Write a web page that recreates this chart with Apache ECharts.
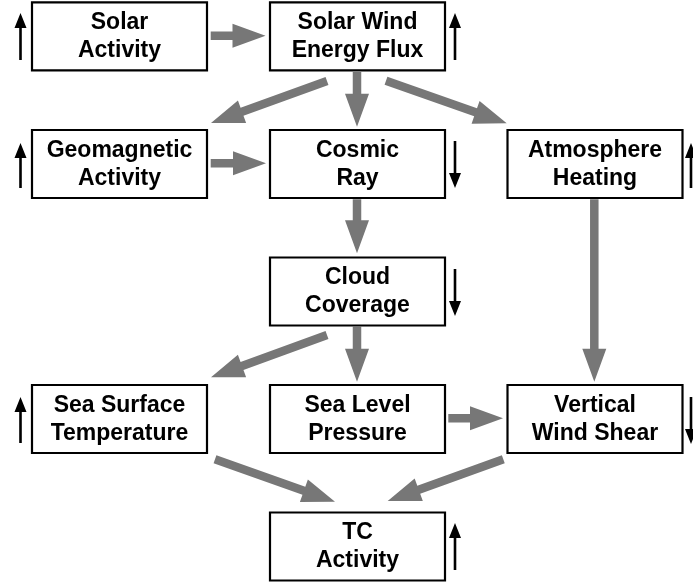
<!DOCTYPE html>
<html>
<head>
<meta charset="utf-8">
<script src="https://cdn.jsdelivr.net/npm/echarts@6/dist/echarts.min.js"></script>
<style>html,body{margin:0;padding:0;background:#fff;}#c{width:693px;height:583px;}</style>
</head>
<body>
<div id="c"></div>
<script>
// Node labels and their centres (diagram coordinates)
const nodeLabels = ['Solar\nActivity', 'Solar Wind\nEnergy Flux', 'Geomagnetic\nActivity', 'Cosmic\nRay',
  'Atmosphere\nHeating', 'Cloud\nCoverage', 'Sea Surface\nTemperature', 'Sea Level\nPressure',
  'Vertical\nWind Shear', 'TC\nActivity'];
const nodeX = [119.5, 357.5, 119.5, 357.5, 595, 357.5, 119.5, 357.5, 595, 357.5];
const nodeY = [36.3, 36.3, 164, 164, 164, 291.5, 419, 419, 419, 546.5];

// Causal links (gray arrows): tail x, tail y, tip x, tip y
const linkFromX = [210.7, 327, 357, 386, 210.7, 357, 594.3, 327, 357, 448.3, 215, 503.3];
const linkFromY = [35.7, 81, 72, 80.7, 163.3, 199.3, 199.3, 335, 326.7, 418.3, 459.3, 459.3];
const linkToX   = [265.5, 211, 357, 506.7, 266, 357, 594.3, 211, 357, 503, 335, 387.7];
const linkToY   = [35.7, 123, 126.7, 123.3, 163.3, 253.3, 381.7, 377.3, 381.7, 418.3, 501.7, 501];

// Trend indicators (small black arrows): x, tail y, tip y
const trendX     = [20.5, 455, 20.5, 455, 691, 455, 20.5, 691, 455];
const trendTailY = [60, 60, 188, 141, 188, 269, 443, 397, 570];
const trendTipY  = [13, 13, 143, 188, 143, 316, 397, 444, 523];

const boxData = nodeLabels.map((l, i) => [nodeX[i], nodeY[i], l]);
const linkData = linkFromX.map((v, i) => [v, linkFromY[i], linkToX[i], linkToY[i]]);
const trendData = trendX.map((v, i) => [v, trendTailY[i], v, trendTipY[i]]);

function arrowRenderer(shaftW, headW, headL, color) {
  return function (params, api) {
    const p1 = api.coord([api.value(0), api.value(1)]);
    const p2 = api.coord([api.value(2), api.value(3)]);
    const dx = p2[0] - p1[0], dy = p2[1] - p1[1];
    const len = Math.sqrt(dx * dx + dy * dy);
    const ux = dx / len, uy = dy / len;
    const nx = -uy, ny = ux;
    const bx = p2[0] - ux * headL, by = p2[1] - uy * headL;
    const s = shaftW / 2, h = headW / 2;
    const pts = [
      [p1[0] + nx * s, p1[1] + ny * s],
      [bx + nx * s, by + ny * s],
      [bx + nx * h, by + ny * h],
      [p2[0], p2[1]],
      [bx - nx * h, by - ny * h],
      [bx - nx * s, by - ny * s],
      [p1[0] - nx * s, p1[1] - ny * s]
    ];
    return { type: 'polygon', shape: { points: pts }, style: { fill: color } };
  };
}

const chart = echarts.init(document.getElementById('c'), null, { renderer: 'canvas' });
chart.setOption({
  animation: false,
  backgroundColor: '#ffffff',
  grid: { left: 0, right: 0, top: 0, bottom: 0 },
  xAxis: { type: 'value', min: 0, max: 693, show: false },
  yAxis: { type: 'value', min: 0, max: 583, inverse: true, show: false },
  series: [
    {
      type: 'custom', silent: true, z: 2,
      data: linkData,
      encode: { x: [0, 2], y: [1, 3] },
      renderItem: arrowRenderer(8.5, 24, 33, '#777777')
    },
    {
      type: 'custom', silent: true, z: 2,
      data: trendData,
      encode: { x: [0, 2], y: [1, 3] },
      renderItem: arrowRenderer(2.6, 12, 15, '#000000')
    },
    {
      type: 'custom', silent: true, z: 3,
      data: boxData,
      encode: { x: 0, y: 1 },
      renderItem: function (params, api) {
        const cx = api.value(0), cy = api.value(1);
        const tl = api.coord([cx - 87.5, cy - 34]);
        const br = api.coord([cx + 87.5, cy + 34]);
        const c = api.coord([cx, cy]);
        const label = boxData[params.dataIndex][2];
        return {
          type: 'group',
          children: [
            { type: 'rect', shape: { x: tl[0], y: tl[1], width: br[0] - tl[0], height: br[1] - tl[1] },
              style: { fill: '#ffffff', stroke: '#000000', lineWidth: 2.2 } },
            { type: 'text', x: c[0], y: c[1] + 0.5,
              style: { text: label, align: 'center', verticalAlign: 'middle',
                font: 'bold 23px "Liberation Sans", Arial, sans-serif', lineHeight: 28, fill: '#000000' } }
          ]
        };
      }
    }
  ]
});
</script>
</body>
</html>
